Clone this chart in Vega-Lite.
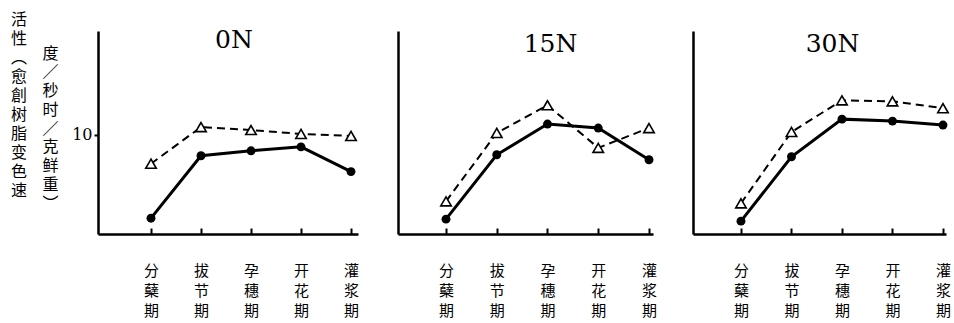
{
  "$schema": "https://vega.github.io/schema/vega-lite/v6.json",
  "background": "white",
  "padding": {"left": 10, "top": 12, "right": 0, "bottom": 0},
  "spacing": 40,
  "bounds": "flush",
  "config": {
    "view": {"stroke": null},
    "axis": {"domainColor": "black", "domainWidth": 2.5, "tickColor": "black", "labelColor": "black", "titleColor": "black", "grid": false},
    "axisX": {"title": null, "labelAngle": 0, "labelFlush": false, "labelOverlap": false,
      "labelFont": "Noto Sans CJK SC", "labelFontSize": 15, "labelLineHeight": 20, "tickSize": -6, "tickWidth": 2, "labelPadding": 35},
    "title": {"font": "DejaVu Serif", "fontSize": 25, "fontWeight": "normal", "color": "black", "frame": "group", "anchor": "middle", "baseline": "alphabetic"}
  },
  "title": {
    "text": ["活", "性", "︵", "愈", "創", "树", "脂", "变", "色", "速"],
    "orient": "left", "angle": 0, "align": "center", "baseline": "top", "anchor": "end",
    "font": "Noto Sans CJK SC", "fontSize": 16, "fontWeight": "normal", "lineHeight": 19,
    "offset": 7, "dy": -16, "frame": "bounds"
  },
  "data": {"values": [
    {"N": "0N", "stage": "分蘖期", "order": 1, "series": "A", "v": 7.1},
    {"N": "0N", "stage": "拔节期", "order": 2, "series": "A", "v": 10.8},
    {"N": "0N", "stage": "孕穗期", "order": 3, "series": "A", "v": 10.5},
    {"N": "0N", "stage": "开花期", "order": 4, "series": "A", "v": 10.1},
    {"N": "0N", "stage": "灌浆期", "order": 5, "series": "A", "v": 9.9},
    {"N": "0N", "stage": "分蘖期", "order": 1, "series": "B", "v": 1.6},
    {"N": "0N", "stage": "拔节期", "order": 2, "series": "B", "v": 7.9},
    {"N": "0N", "stage": "孕穗期", "order": 3, "series": "B", "v": 8.4},
    {"N": "0N", "stage": "开花期", "order": 4, "series": "B", "v": 8.8},
    {"N": "0N", "stage": "灌浆期", "order": 5, "series": "B", "v": 6.3},
    {"N": "15N", "stage": "分蘖期", "order": 1, "series": "A", "v": 3.3},
    {"N": "15N", "stage": "拔节期", "order": 2, "series": "A", "v": 10.2},
    {"N": "15N", "stage": "孕穗期", "order": 3, "series": "A", "v": 13.0},
    {"N": "15N", "stage": "开花期", "order": 4, "series": "A", "v": 8.7},
    {"N": "15N", "stage": "灌浆期", "order": 5, "series": "A", "v": 10.7},
    {"N": "15N", "stage": "分蘖期", "order": 1, "series": "B", "v": 1.5},
    {"N": "15N", "stage": "拔节期", "order": 2, "series": "B", "v": 8.0},
    {"N": "15N", "stage": "孕穗期", "order": 3, "series": "B", "v": 11.1},
    {"N": "15N", "stage": "开花期", "order": 4, "series": "B", "v": 10.7},
    {"N": "15N", "stage": "灌浆期", "order": 5, "series": "B", "v": 7.5},
    {"N": "30N", "stage": "分蘖期", "order": 1, "series": "A", "v": 3.1},
    {"N": "30N", "stage": "拔节期", "order": 2, "series": "A", "v": 10.3},
    {"N": "30N", "stage": "孕穗期", "order": 3, "series": "A", "v": 13.5},
    {"N": "30N", "stage": "开花期", "order": 4, "series": "A", "v": 13.4},
    {"N": "30N", "stage": "灌浆期", "order": 5, "series": "A", "v": 12.7},
    {"N": "30N", "stage": "分蘖期", "order": 1, "series": "B", "v": 1.3},
    {"N": "30N", "stage": "拔节期", "order": 2, "series": "B", "v": 7.8},
    {"N": "30N", "stage": "孕穗期", "order": 3, "series": "B", "v": 11.6},
    {"N": "30N", "stage": "开花期", "order": 4, "series": "B", "v": 11.4},
    {"N": "30N", "stage": "灌浆期", "order": 5, "series": "B", "v": 11.0}
  ]},
  "hconcat": [
    {
      "width": 260, "height": 203,
      "title": {"text": "0N", "offset": -22, "dx": 6},
      "transform": [{"filter": "datum.N === '0N'"}],
      "encoding": {
        "x": {"field": "order", "type": "quantitative", "scale": {"domain": [-0.06, 5.14], "nice": false, "zero": false},
          "axis": {"values": [1, 2, 3, 4, 5], "labelExpr": "split(['分蘖期','拔节期','孕穗期','开花期','灌浆期'][datum.value - 1], '')"}},
        "y": {"field": "v", "type": "quantitative", "scale": {"domain": [0, 20.5], "nice": false, "zero": false},
          "axis": {"values": [10], "tickSize": 4, "tickWidth": 2, "labelFont": "DejaVu Serif", "labelFontSize": 16, "labelPadding": 2,
            "title": ["度", "／", "秒", "时", "／", "克", "鲜", "重", "︶"], "titleFont": "Noto Sans CJK SC", "titleFontSize": 16, "titleFontWeight": "normal", "titleLineHeight": 18.75, "titleAngle": 0, "titleAlign": "center", "titleBaseline": "middle", "titleX": -48, "titleY": 22}}
      },
      "layer": [
        {"transform": [{"filter": "datum.series === 'A'"}], "mark": {"type": "line", "color": "black", "strokeWidth": 2, "strokeDash": [8, 5]}},
        {"transform": [{"filter": "datum.series === 'B'"}], "mark": {"type": "line", "color": "black", "strokeWidth": 3}},
        {"transform": [{"filter": "datum.series === 'A'"}], "mark": {"type": "point", "shape": "triangle-up", "filled": true, "fill": "white", "stroke": "black", "strokeWidth": 1.6, "size": 110, "opacity": 1}},
        {"transform": [{"filter": "datum.series === 'B'"}], "mark": {"type": "circle", "color": "black", "size": 80, "opacity": 1}}
      ]
    },
    {
      "width": 255, "height": 203,
      "title": {"text": "15N", "offset": -26, "dx": 25},
      "transform": [{"filter": "datum.N === '15N'"}],
      "encoding": {
        "x": {"field": "order", "type": "quantitative", "scale": {"domain": [0.054, 5.079], "nice": false, "zero": false},
          "axis": {"values": [1, 2, 3, 4, 5], "labelExpr": "split(['分蘖期','拔节期','孕穗期','开花期','灌浆期'][datum.value - 1], '')"}},
        "y": {"field": "v", "type": "quantitative", "scale": {"domain": [0, 20.5], "nice": false, "zero": false},
          "axis": {"ticks": false, "labels": false, "title": null}}
      },
      "layer": [
        {"transform": [{"filter": "datum.series === 'A'"}], "mark": {"type": "line", "color": "black", "strokeWidth": 2, "strokeDash": [8, 5]}},
        {"transform": [{"filter": "datum.series === 'B'"}], "mark": {"type": "line", "color": "black", "strokeWidth": 3}},
        {"transform": [{"filter": "datum.series === 'A'"}], "mark": {"type": "point", "shape": "triangle-up", "filled": true, "fill": "white", "stroke": "black", "strokeWidth": 1.6, "size": 110, "opacity": 1}},
        {"transform": [{"filter": "datum.series === 'B'"}], "mark": {"type": "circle", "color": "black", "size": 80, "opacity": 1}}
      ]
    },
    {
      "width": 253, "height": 203,
      "title": {"text": "30N", "offset": -26, "dx": 13},
      "transform": [{"filter": "datum.N === '30N'"}],
      "encoding": {
        "x": {"field": "order", "type": "quantitative", "scale": {"domain": [0.05, 5.06], "nice": false, "zero": false},
          "axis": {"values": [1, 2, 3, 4, 5], "labelExpr": "split(['分蘖期','拔节期','孕穗期','开花期','灌浆期'][datum.value - 1], '')"}},
        "y": {"field": "v", "type": "quantitative", "scale": {"domain": [0, 20.5], "nice": false, "zero": false},
          "axis": {"ticks": false, "labels": false, "title": null}}
      },
      "layer": [
        {"transform": [{"filter": "datum.series === 'A'"}], "mark": {"type": "line", "color": "black", "strokeWidth": 2, "strokeDash": [8, 5]}},
        {"transform": [{"filter": "datum.series === 'B'"}], "mark": {"type": "line", "color": "black", "strokeWidth": 3}},
        {"transform": [{"filter": "datum.series === 'A'"}], "mark": {"type": "point", "shape": "triangle-up", "filled": true, "fill": "white", "stroke": "black", "strokeWidth": 1.6, "size": 110, "opacity": 1}},
        {"transform": [{"filter": "datum.series === 'B'"}], "mark": {"type": "circle", "color": "black", "size": 80, "opacity": 1}}
      ]
    }
  ]
}
